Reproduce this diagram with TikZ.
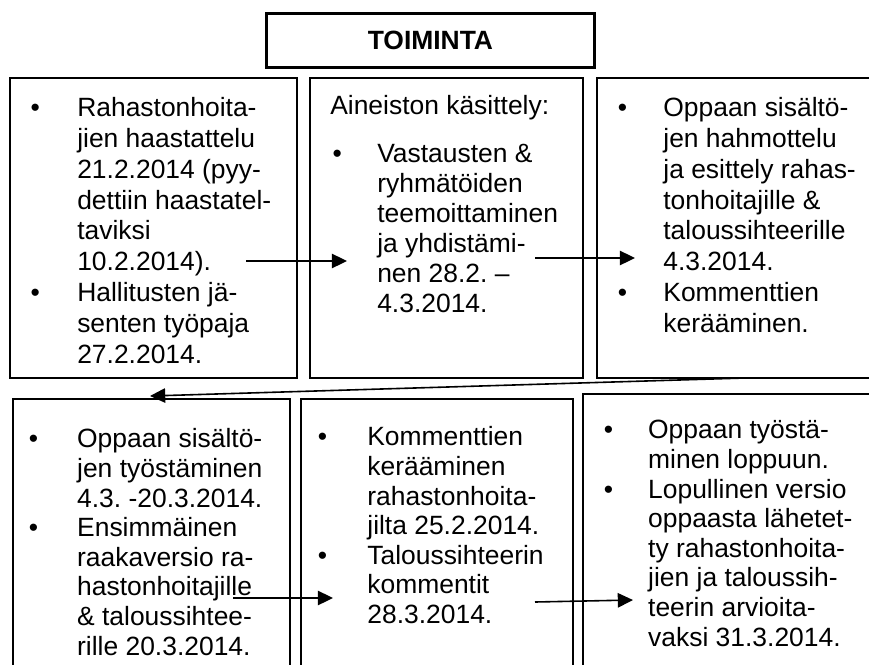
\documentclass[tikz,border=0pt]{standalone}
\usepackage{fontspec}
\setmainfont{Liberation Sans}
\usetikzlibrary{arrows.meta}
\frenchspacing
\tikzset{
  box/.style={draw, line width=0.5mm, anchor=north west, inner sep=0pt},
  txt/.style={anchor=north west, inner sep=0pt, font=\fontsize{18.8pt}{#1}\selectfont},
  arr/.style={line width=0.4mm, -{Triangle[length=3.8mm,width=3.6mm]}}
}
\begin{document}
\begin{tikzpicture}[x=0.25mm,y=-0.25mm]
   \useasboundingbox (0,0) rectangle (869,664);
   \node[box, line width=0.7mm, minimum width=82mm, minimum height=13.5mm, font=\fontsize{18.8pt}{22pt}\selectfont\bfseries] (title) at (265,12) {TOIMINTA};
   \node[box, minimum width=71.75mm, minimum height=75mm] (b1) at (9,77) {};
   \node[box, minimum width=68.25mm, minimum height=75mm] (b2) at (309,77) {};
   \node[box, minimum width=69.75mm, minimum height=75mm] (b3) at (596,77) {};
   \node[box, minimum width=69.25mm, minimum height=70.5mm] (b4) at (12,398) {};
   \node[box, minimum width=68mm, minimum height=70.5mm] (b5) at (300,398) {};
   \node[box, minimum width=73.25mm, minimum height=71.75mm] (b6) at (582,393) {};
   \node[txt=7.7mm] (t1) at (30.4,94.9) {\begin{tabular}{@{}p{11.65mm}@{}l@{}}
     \textbullet & Rahastonhoita-\\
     & jien haastattelu\\
     & 21.2.2014 (pyy-\\
     & dettiin haastatel-\\
     & taviksi\\
     & 10.2.2014).\\
     \textbullet & Hallitusten jä-\\
     & senten työpaja\\
     & 27.2.2014.
   \end{tabular}};
   \node[txt=7.5mm] (t2) at (330,93.5) {\begin{tabular}{@{}p{11.75mm}@{}l@{}}
     \multicolumn{2}{@{}l@{}}{Aineiston käsittely:}\\[4.5mm]
     \hspace{0.6mm}\textbullet & Vastausten \&\\
     & ryhmätöiden\\
     & teemoittaminen\\
     & ja yhdistämi-\\
     & nen 28.2. –\\
     & 4.3.2014.
   \end{tabular}};
   \node[txt=7.7mm] (t3) at (617.5,94.9) {\begin{tabular}{@{}p{11.4mm}@{}l@{}}
     \textbullet & Oppaan sisältö-\\
     & jen hahmottelu\\
     & ja esittely rahas-\\
     & tonhoitajille \&\\
     & taloussihteerille\\
     & 4.3.2014.\\
     \textbullet & Kommenttien\\
     & kerääminen.
   \end{tabular}};
   \node[txt=7.4mm] (t4) at (28.5,426.8) {\begin{tabular}{@{}p{12.1mm}@{}l@{}}
     \textbullet & Oppaan sisältö-\\
     & jen työstäminen\\
     & 4.3. -20.3.2014.\\
     \textbullet & Ensimmäinen\\
     & raakaversio ra-\\
     & hastonhoitajille\\
     & \& taloussihtee-\\
     & rille 20.3.2014.
   \end{tabular}};
   \node[txt=7.4mm] (t5) at (317.5,424.8) {\begin{tabular}{@{}p{12.4mm}@{}l@{}}
     \textbullet & Kommenttien\\
     & kerääminen\\
     & rahastonhoita-\\
     & jilta 25.2.2014.\\
     \textbullet & Taloussihteerin\\
     & kommentit\\
     & 28.3.2014.
   \end{tabular}};
   \node[txt=7.4mm] (t6) at (603.5,417.8) {\begin{tabular}{@{}p{11.1mm}@{}l@{}}
     \textbullet & Oppaan työstä-\\
     & minen loppuun.\\
     \textbullet & Lopullinen versio\\
     & oppaasta lähetet-\\
     & ty rahastonhoita-\\
     & jien ja taloussih-\\
     & teerin arvioita-\\
     & vaksi 31.3.2014.
   \end{tabular}};
   \coordinate (a1s) at (246,261);
   \coordinate (a1e) at (347,261);
   \coordinate (a2s) at (535,258);
   \coordinate (a2e) at (635,258);
   \coordinate (a3s) at (745,378);
   \coordinate (a3e) at (150,396);
   \coordinate (a4s) at (233,598);
   \coordinate (a4e) at (333,598);
   \coordinate (a5s) at (535,602);
   \coordinate (a5e) at (633,600);
   \draw[arr] (a1s) -- (a1e);
   \draw[arr] (a2s) -- (a2e);
   \draw[arr] (a3s) -- (a3e);
   \draw[arr] (a4s) -- (a4e);
   \draw[arr] (a5s) -- (a5e);
\end{tikzpicture}
\end{document}
